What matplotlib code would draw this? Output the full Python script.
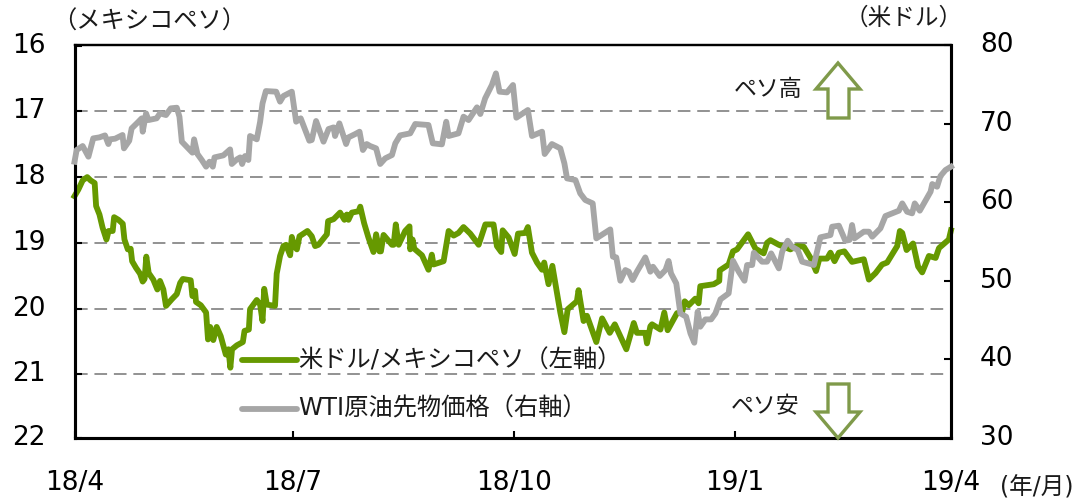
import matplotlib
matplotlib.use("Agg")
import matplotlib.pyplot as plt
from matplotlib.patches import Polygon
from matplotlib.transforms import Affine2D, ScaledTranslation

plt.rcParams['font.family'] = ['DejaVu Sans', 'Noto Sans CJK JP']

# days since 2018-04-01
peso_days = [0,1.6,3.4,5.3,6.7,8.4,9,10.4,11.7,13.3,14.2,15.9,16.5,18.3,20.1,20.8,22.2,23.4,24,25.6,27.3,28.4,29.2,29.9,30.9,32.8,34.5,35.6,37,38.1,40.5,42.6,44,45.1,48.4,49.1,50.2,50.6,52.6,54.8,55.6,56.5,57.8,59.2,60.9,63,64.1,64.9,65.6,67.6,70.1,70.8,72.6,73.1,75.9,77.3,78.3,79,80.1,83.5,84.2,85.6,87,88.1,89.8,90.5,91.5,92.6,93.7,97,98.8,100.2,101.6,105.1,105.6,107.9,110.6,112.4,113.4,114.1,115.5,118.3,
 119,120.6,122.4,124.5,125.6,127,127.6,128.7,132.2,132.9,133.8,135,137.7,139.5,139.8,140.8,141.5,144.7,147.4,148.8,149.5,153.7,155.8,157.9,159.9,162,164.8,168.3,171.1,174.5,175.9,177.7,178.3,180.8,183.3,184.7,187.7,188.8,190.5,192.6,194.7,195.6,197.4,199,202.3,204,205.4,209.2,209.9,212,213.4,217.3,219.7,222.9,225,229.8,232.9,234.2,237.7,238.4,239.8,
 240.5,244,245.6,247,250.9,253,254.1,255.8,258.5,259.9,260.6,266.2,268.5,268.7,272.4,274.2,275.9,278.7,280.5,283.6,287,288.4,289.8,293.3,298.1,300.9,303.7,306.5,308.8,310.2,313.4,314.8,316.5,318.3,320.6,323.8,328.7,330.8,333.6,336.3,338.4,342.6,343.7,344.7,346.5,349.2,351.3,353,355.8,358.6,360,364.1,365]
peso_values = [18.29,18.19,18.05,18.00,18.05,18.09,18.44,18.57,18.77,18.95,18.82,18.82,18.61,18.65,18.71,18.95,19.10,19.09,19.28,19.38,19.47,19.59,19.55,19.21,19.46,19.56,19.71,19.58,19.71,19.96,19.86,19.78,19.61,19.55,19.57,19.81,19.73,19.90,19.95,20.06,20.47,20.28,20.48,20.28,20.42,20.70,20.62,20.90,20.62,20.56,20.51,20.34,20.32,20.01,19.87,19.94,20.19,19.70,19.94,19.96,19.47,19.20,19.05,19.03,19.19,18.91,19.05,19.10,18.90,18.82,18.90,19.05,19.03,18.87,18.67,18.64,18.54,18.65,18.57,18.65,18.54,18.52,
 18.45,18.70,18.92,19.14,18.87,19.13,19.13,18.88,19.03,19.03,18.72,19.03,18.82,18.75,19.10,18.95,19.09,19.19,19.41,19.18,19.33,19.28,18.82,18.89,18.85,18.76,18.86,19.03,18.72,18.72,19.05,19.14,18.81,18.92,19.17,18.86,18.85,18.76,19.15,19.30,19.41,19.30,19.63,19.35,20.06,20.36,20.01,19.89,19.72,20.19,20.11,20.51,20.15,20.37,20.24,20.62,20.22,20.37,20.37,20.53,20.27,
 20.24,20.32,20.06,20.33,20.07,20.06,19.89,19.95,19.85,19.92,19.66,19.63,19.58,19.42,19.33,19.13,19.10,18.96,18.87,19.09,19.16,19.00,18.96,19.03,19.10,19.05,19.06,19.23,19.43,19.24,19.24,19.15,19.28,19.15,19.13,19.29,19.25,19.56,19.46,19.33,19.30,19.05,18.82,18.85,19.11,19.01,19.36,19.45,19.20,19.23,19.08,18.95,18.81]

wti_days = [0,0.9,3.4,5.8,7.8,10.4,12.7,14.1,14.8,16.9,20,20.6,22.8,23.8,26.2,28,28.4,29.8,30.8,34.2,35.6,38.1,40.1,42.6,43.7,44.7,47.4,49.1,49.8,51.2,53,54.8,56.2,57.6,58.3,62,64.8,65.5,67.6,69,69.8,71,72.4,73.1,75.9,77.3,78.3,79.7,84,85.6,87,90.5,92.3,94.2,97.8,98.8,100.6,103.7,105.8,107.9,108.5,110.3,113.1,114.1,116.9,
 118.7,120.1,121.7,123.1,125.6,127.3,129.4,132.2,133.6,135.6,139.8,141.9,147.4,149.2,153,154.8,155.8,159.9,162,164.1,167.6,169,171,173.8,175.5,177,180.1,182.6,184,188.8,190.5,194.7,195.8,198.8,202.3,204,205.1,208.6,210.6,212.7,215.8,217.3,223.1,224.2,225.6,227.3,229.4,230.8,232.4,234.2,237.7,239.8,
 240.9,243.7,246.1,247.4,248.4,250.6,252.3,254.7,256.5,258.1,259.5,260.6,262.7,265.1,266.9,269,272.4,274.2,276.6,279,280.1,282.2,282.9,286.3,288.4,290.1,293.3,294.7,297,298.8,301.2,303,307.9,310.6,314.8,315.5,318.3,321,322.7,323.8,324.8,328.7,330.8,332.2,335.6,337.7,343.3,344.7,346.7,348.8,349.9,352,356.5,357.2,359.2,360.6,362.7,365]
wti_values = [65.15,66.64,67.15,65.79,68.12,68.25,68.50,67.40,68.0,68.08,68.55,66.85,67.82,69.39,70.11,70.67,68.97,71.30,70.45,70.67,71.30,71.09,71.94,72.02,70.88,67.70,66.85,66.30,68.0,66.13,65.37,64.52,65.15,64.52,65.70,65.96,66.72,64.86,65.45,65.70,64.86,65.87,65.37,68.42,68.0,70.24,72.57,74.14,74.06,72.79,73.51,74.06,70.24,70.67,67.82,67.91,70.33,67.70,69.31,69.52,68.42,70.03,67.40,68.25,68.67,
 68.97,66.64,67.40,67.15,66.85,64.86,65.58,66.0,67.49,68.50,68.76,69.95,69.82,67.49,67.36,70.24,68.42,68.76,70.88,70.45,72.07,71.22,73.21,74.91,76.39,74.06,73.97,74.91,70.75,71.73,68.42,68.97,66.13,67.40,66.85,64.94,63.03,62.82,61.12,60.28,59.85,55.40,56.54,53.07,52.98,50.01,51.37,51.16,50.10,51.16,52.98,51.16,
 51.79,50.61,51.37,52.52,50.95,49.67,45.86,45.43,43.31,42.12,46.07,44.16,45.09,45.09,45.86,47.64,48.40,52.56,51.16,50.01,52.01,52.01,53.58,52.43,52.43,53.49,51.58,53.70,55.10,54.34,53.91,52.43,52.01,55.53,55.82,56.88,57.01,55.10,55.19,57.10,55.40,56.25,56.25,55.61,56.67,58.24,58.92,59.85,58.79,58.58,59.85,58.92,61.34,62.31,61.97,63.33,64.09,64.52]

x_ticks = [0, 91, 183, 275, 365]
x_labels = ['18/4', '18/7', '18/10', '19/1', '19/4']
left_ticks = [16, 17, 18, 19, 20, 21]
left_labels = ['16', '17', '18', '19', '20', '21']
right_ticks = [30, 40, 50, 60, 70, 80]
GREEN = '#669900'
GRAY = '#A6A6A6'
ARROW = '#7F9A4A'
W, H = 1084, 500

fig = plt.figure(figsize=(W / 100, H / 100), dpi=100)
L, R, T, B = 74.5, 951, 45, 438
ax = fig.add_axes([L / W, 1 - B / H, (R - L) / W, (B - T) / H])
ax.set_xlim(0, 365)
ax.set_ylim(21.97, 15.99)
ax2 = ax.twinx()
ax2.set_ylim(30, 80)

for v in left_ticks[1:]:
    ax.axhline(v, color='#929292', lw=1.4, dashes=(6.5, 3.5), zorder=1)

ax.plot(peso_days, peso_values, color=GREEN, lw=4.2, zorder=3, solid_joinstyle='round', clip_on=False)
ax2.plot(wti_days, wti_values, color=GRAY, lw=4.2, zorder=4, solid_joinstyle='round', clip_on=False)

ax.set_xticks(x_ticks)
ax.set_xticklabels(x_labels)
ax.set_yticks(left_ticks + [21.97])
ax.set_yticklabels(left_labels + ['22'])
ax2.set_yticks(right_ticks)
ax.tick_params(axis='x', direction='in', length=5, width=1.5, labelsize=19, pad=23)
ax.tick_params(axis='y', direction='in', length=5, width=1.5, labelsize=19, pad=21)
ax2.tick_params(axis='y', direction='in', length=5, width=1.5, labelsize=19, pad=21)
for a in (ax, ax2):
    for s in a.spines.values():
        s.set_linewidth(2.2)
    a.spines['top'].set_linewidth(1.6)

fig.canvas.draw()
lift = ScaledTranslation(0, 3 / 100, fig.dpi_scale_trans)
for t in ax.get_yticklabels() + ax2.get_yticklabels():
    t.set_transform(t.get_transform() + lift)

px = Affine2D().scale(1 / W, -1 / H).translate(0, 1) + fig.transFigure

def label(x, y, s, size=15, ha='left'):
    fig.text(x, y, s, transform=px, fontsize=size, ha=ha, va='center', color='#1a1a1a')

label(52, 22, '（メキシコペソ）', 17.5)
label(845, 18, '（米ドル）', 17)
label(1000, 487, '(年/月)', 17)
label(734, 89, 'ペソ高', 16.5)
label(731, 407, 'ペソ安', 16.5)
label(298, 360, '米ドル/メキシコペソ（左軸）', 17.5)
label(298, 409, 'WTI原油先物価格（右軸）', 17.5)

leg_kw = dict(lw=4.2, transform=px, solid_capstyle='round', zorder=6)
fig.add_artist(plt.Line2D([242, 297], [360, 360], color=GREEN, **leg_kw))
fig.add_artist(plt.Line2D([242, 297], [409, 409], color=GRAY, **leg_kw))

up = [(838, 63), (860, 89), (849, 89), (849, 118), (828, 118), (828, 89), (816, 89)]
down = [(838, 438), (860, 412), (849, 412), (849, 384), (828, 384), (828, 412), (816, 412)]
for pts in (up, down):
    fig.add_artist(Polygon(pts, closed=True, facecolor='white', edgecolor=ARROW, lw=2.4,
                           transform=px, zorder=7, joinstyle='miter'))

fig.savefig('out.png', dpi=100)
